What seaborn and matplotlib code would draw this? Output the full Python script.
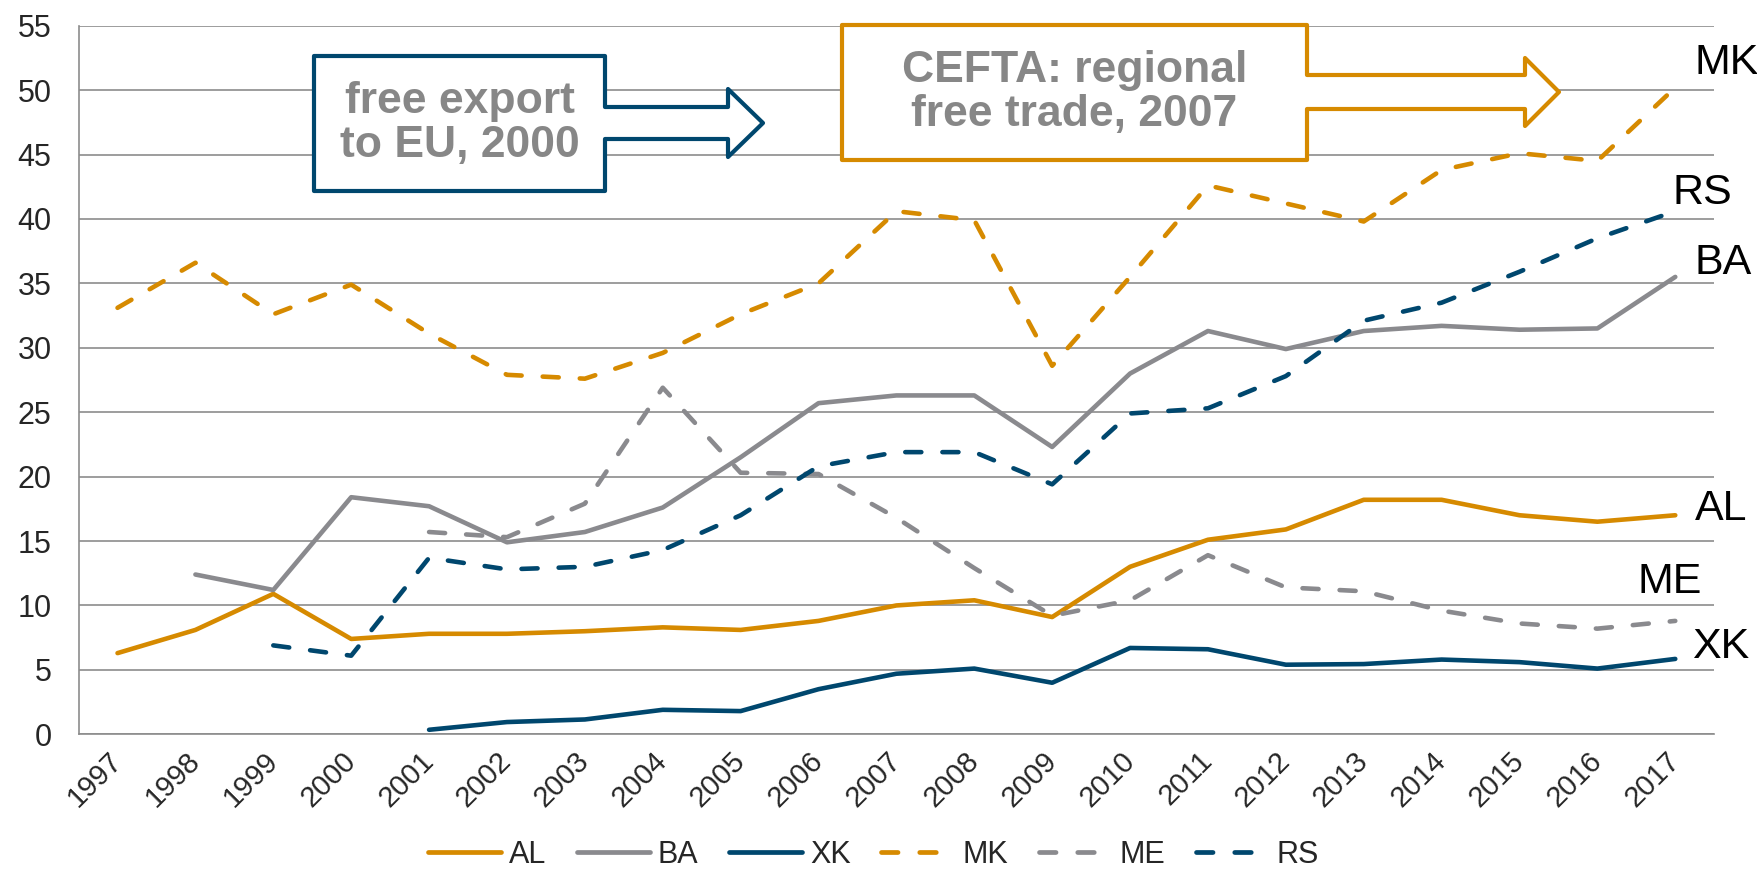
import matplotlib
matplotlib.use("Agg")
import matplotlib.pyplot as plt
import matplotlib.patches as mpatches
import seaborn as sns
import pandas as pd
import numpy as np

# Data
years = list(range(1997, 2018))
nan = np.nan
AL = [6.3, 8.1, 10.9, 7.4, 7.8, 7.8, 8.0, 8.3, 8.1, 8.8, 10.0, 10.4, 9.1, 13.0, 15.1, 15.9, 18.2, 18.2, 17.0, 16.5, 17.0]
BA = [nan, 12.4, 11.2, 18.4, 17.7, 14.9, 15.7, 17.6, 21.5, 25.7, 26.3, 26.3, 22.3, 28.0, 31.3, 29.9, 31.3, 31.7, 31.4, 31.5, 35.5]
XK = [nan, nan, nan, nan, 0.35, 0.95, 1.15, 1.9, 1.8, 3.5, 4.7, 5.1, 4.0, 6.7, 6.6, 5.4, 5.45, 5.8, 5.6, 5.1, 5.85]
MK = [33.1, 36.6, 32.6, 34.9, 31.1, 27.9, 27.6, 29.6, 32.6, 35.0, 40.6, 39.9, 28.6, 35.5, 42.6, 41.2, 39.8, 43.8, 45.1, 44.5, 50.2]
ME = [nan, nan, nan, nan, 15.7, 15.3, 17.9, 26.9, 20.3, 20.2, 16.8, 12.9, 9.2, 10.4, 13.9, 11.4, 11.1, 9.6, 8.6, 8.2, 8.8]
RS = [nan, nan, 6.9, 6.1, 13.7, 12.8, 13.0, 14.3, 17.0, 20.8, 21.9, 21.9, 19.4, 24.9, 25.3, 27.8, 32.1, 33.5, 35.9, 38.5, 40.6]

series = {'AL': AL, 'BA': BA, 'XK': XK, 'MK': MK, 'ME': ME, 'RS': RS}
order = ['AL', 'BA', 'XK', 'MK', 'ME', 'RS']

orange = '#D68A00'
grey = '#8A8A8E'
blue = '#00476E'
palette = {'AL': orange, 'BA': grey, 'XK': blue, 'MK': orange, 'ME': grey, 'RS': blue}
dash = (3.5, 4.6)
dashes = {'AL': '', 'BA': '', 'XK': '', 'MK': dash, 'ME': dash, 'RS': dash}

# end-of-line labels: (x in years, y in data units)
end_labels = {'MK': (2017.25, 52.1), 'RS': (2016.96, 42.0), 'BA': (2017.25, 36.6),
              'AL': (2017.25, 17.5), 'ME': (2016.52, 11.8), 'XK': (2017.22, 6.8)}

rows = []
for name in order:
    for y, v in zip(years, series[name]):
        rows.append({'Year': y, 'Country': name, 'Value': v})
df = pd.DataFrame(rows).dropna()

sns.set_style('white')
plt.rcParams['font.family'] = ['Liberation Sans', 'DejaVu Sans']

fig = plt.figure(figsize=(17.58, 8.88), dpi=100)
ax = fig.add_axes([0.0447, 0.1731, 0.9304, 0.798])

sns.lineplot(data=df, x='Year', y='Value', hue='Country', style='Country',
             hue_order=order, style_order=order, palette=palette, dashes=dashes,
             linewidth=3.3, ax=ax, legend=True, zorder=3,
             dash_capstyle='round', solid_capstyle='round')

gc = '#8C8C8C'
ax.set_xlim(1996.5, 2017.5)
ax.set_ylim(0, 55)
ax.set_yticks(range(0, 56, 5))
ax.yaxis.grid(True, color=gc, linewidth=1.2)
ax.xaxis.grid(False)
ax.set_axisbelow(True)
for s in ['top', 'right']:
    ax.spines[s].set_visible(False)
for s in ['left', 'bottom']:
    ax.spines[s].set_color(gc)
    ax.spines[s].set_linewidth(1.2)
ax.set_xlabel('')
ax.set_ylabel('')

ax.set_xticks(years)
ax.set_xticklabels([str(y) for y in years])
ax.set_xticks(np.arange(1996.5, 2018, 1), minor=True)
ax.tick_params(axis='x', which='major', length=0, pad=16, labelsize=21)
ax.tick_params(axis='x', which='minor', length=6, width=1.2, color=gc, direction='out')
ax.tick_params(axis='y', length=6.5, width=1.2, color=gc, direction='out', pad=13, labelsize=22)
plt.setp(ax.get_xticklabels(), rotation=45, ha='right', va='center', rotation_mode='anchor')

for name, (x, y) in end_labels.items():
    ax.text(x, y, name, fontsize=31, va='center', ha='left', color='black', clip_on=False)

# legend
handles, labels = ax.get_legend_handles_labels()
ax.get_legend().remove()
for h, lab in zip(handles, labels):
    h.set_linewidth(3.4)
    h.set_dash_capstyle('round')
    h.set_solid_capstyle('round')
    if dashes[lab]:
        h.set_dashes(dash)
fig.legend(handles, labels, loc='lower center', bbox_to_anchor=(0.497, 0.0), ncol=6,
           frameon=False, fontsize=22, handlelength=2.4, handletextpad=0.25,
           columnspacing=1.0, borderpad=0.1)


# callout boxes with arrows (figure pixel positions)
def callout(x0, x1, y0, y1, sy0, sy1, xh, hy0, hy1, xt, ty, color, text):
    W, H = 1758.0, 888.0
    pts = [(x0, y0), (x1, y0), (x1, sy0), (xh, sy0), (xh, hy0), (xt, ty),
           (xh, hy1), (xh, sy1), (x1, sy1), (x1, y1), (x0, y1)]
    pts = [(px / W, 1 - py / H) for px, py in pts]
    poly = mpatches.Polygon(pts, closed=True, transform=fig.transFigure,
                            facecolor='white', edgecolor=color, linewidth=3.0,
                            joinstyle='round', zorder=5)
    fig.patches.append(poly)
    fig.text((x0 + x1) / 2 / W, 1 - (y0 + y1) / 2 / H, text, ha='center', va='center',
             fontsize=32, fontweight='bold', color='#878787', linespacing=1.12, zorder=6)


callout(314, 605, 56, 191, 107, 139, 728, 89, 157, 763, 123, blue, 'free export\nto EU, 2000')
callout(842, 1307, 25, 160, 75, 109, 1525, 58, 126, 1559, 92, orange, 'CEFTA: regional\nfree trade, 2007')

fig.savefig('out.png', dpi=100)
